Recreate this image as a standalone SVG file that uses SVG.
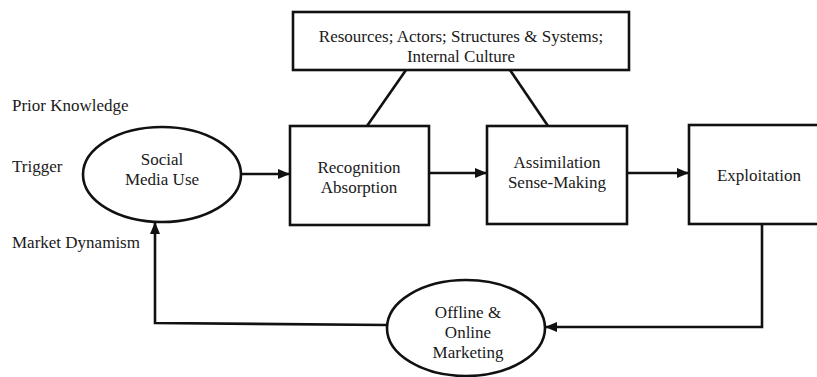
<svg xmlns="http://www.w3.org/2000/svg" width="817" height="377" viewBox="0 0 817 377" font-family="'Liberation Serif', 'DejaVu Serif', serif" font-size="17">
<style>
.box{fill:#fff;stroke:#111;stroke-width:2.6}
.ln{fill:none;stroke:#111;stroke-width:2.6}
text{font-family:'Liberation Serif', 'DejaVu Serif', serif;font-size:17px;fill:#1a1a1a}
.c{text-anchor:middle}
</style>
<defs>
<marker id="ah" markerWidth="12" markerHeight="10" refX="11" refY="5" orient="auto" markerUnits="userSpaceOnUse">
<path d="M0,0 L12,5 L0,10 Z" fill="#111"/>
</marker>
</defs>
<rect width="817" height="377" fill="#fff"/>
<g id="connectors">
<line class="ln" x1="367" y1="126" x2="406" y2="70"/>
<line class="ln" x1="510" y1="70" x2="548" y2="126"/>
<line class="ln" x1="241" y1="174" x2="289" y2="174" marker-end="url(#ah)"/>
<line class="ln" x1="429" y1="173" x2="486" y2="173" marker-end="url(#ah)"/>
<line class="ln" x1="627" y1="173" x2="688" y2="173" marker-end="url(#ah)"/>
<polyline class="ln" points="762,224 762,327 546,327" marker-end="url(#ah)"/>
<polyline class="ln" points="387,325 155,323 155,223" marker-end="url(#ah)"/>
</g>
<g id="labels">
<text x="12" y="111">Prior Knowledge</text>
<text x="12" y="172">Trigger</text>
<text x="12" y="248">Market Dynamism</text>
</g>
<g id="resources">
<rect class="box" x="293" y="12" width="336" height="58"/>
<text class="c" x="461" y="42">Resources; Actors; Structures &amp; Systems;</text>
<text class="c" x="461" y="62">Internal Culture</text>
</g>
<g id="social">
<ellipse class="box" cx="162" cy="174.5" rx="79" ry="47.5"/>
<text class="c" x="162" y="165">Social</text>
<text class="c" x="162" y="185">Media Use</text>
</g>
<g id="recognition">
<rect class="box" x="290" y="126" width="139" height="99"/>
<text class="c" x="359" y="173">Recognition</text>
<text class="c" x="359" y="193">Absorption</text>
</g>
<g id="assimilation">
<rect class="box" x="487" y="126" width="140" height="98"/>
<text class="c" x="557" y="168">Assimilation</text>
<text class="c" x="557" y="188">Sense-Making</text>
</g>
<g id="exploitation">
<rect class="box" x="689" y="125" width="140" height="99"/>
<text class="c" x="759" y="181">Exploitation</text>
</g>
<g id="marketing">
<ellipse class="box" cx="466" cy="328" rx="79" ry="48"/>
<text class="c" x="468" y="318">Offline &amp;</text>
<text class="c" x="468" y="338">Online</text>
<text class="c" x="468" y="358">Marketing</text>
</g>
</svg>
